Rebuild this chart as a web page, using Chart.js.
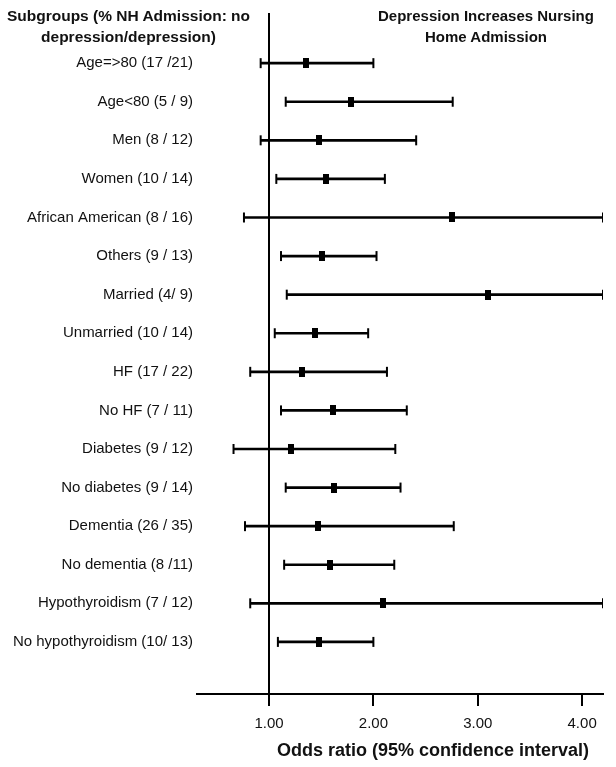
<!DOCTYPE html>
<html>
<head>
<meta charset="utf-8">
<script src="https://cdn.jsdelivr.net/npm/chart.js@4.4.1/dist/chart.umd.min.js"></script>
<style>
  body { margin: 0; background: #fff; }
  #wrap { position: relative; width: 616px; height: 767px; }
  .hdr { position: absolute; font-family: Arial, "Liberation Sans", sans-serif; font-weight: bold; color: #111; text-align: center; line-height: 21px; white-space: nowrap; }
</style>
</head>
<body>
<div id="wrap">
  <canvas id="mycanvas"></canvas>
  <div class="hdr" style="left:0px; top:5px; width:257px; font-size:15.5px;">Subgroups (% NH Admission: no<br>depression/depression)</div>
  <div class="hdr" style="left:366px; top:5px; width:240px; font-size:15px;">Depression Increases Nursing<br>Home Admission</div>
  <div class="hdr" style="left:253px; top:740px; width:360px; font-size:18px;">Odds ratio (95% confidence interval)</div>
</div>
<script>
var subgroups = ['Age=>80 (17 /21)', 'Age<80 (5 / 9)', 'Men (8 / 12)', 'Women (10 / 14)',
    'African American (8 / 16)', 'Others (9 / 13)', 'Married (4/ 9)', 'Unmarried (10 / 14)',
    'HF (17 / 22)', 'No HF (7 / 11)', 'Diabetes (9 / 12)', 'No diabetes (9 / 14)',
    'Dementia (26 / 35)', 'No dementia (8 /11)', 'Hypothyroidism (7 / 12)', 'No hypothyroidism (10/ 13)'];
var oddsRatio = [1.35, 1.79, 1.48, 1.55, 2.75, 1.505, 3.10, 1.44, 1.32, 1.61, 1.21, 1.62, 1.47, 1.58, 2.09, 1.48];
var ciLower = [0.92, 1.16, 0.92, 1.07, 0.76, 1.115, 1.17, 1.055, 0.82, 1.115, 0.66, 1.16, 0.77, 1.145, 0.82, 1.085];
var ciUpper = [2.00, 2.76, 2.41, 2.11, 4.20, 2.03, 4.20, 1.95, 2.13, 2.32, 2.21, 2.26, 2.77, 2.20, 4.20, 2.00];
var xTicks = [1, 2, 3, 4];

var ciBars = [], ciCaps = [], orPoints = [];
for (var i = 0; i < subgroups.length; i++) {
    ciBars.push({x: [ciLower[i], ciUpper[i]], y: i});
    ciCaps.push({x: ciLower[i], y: i});
    ciCaps.push({x: ciUpper[i], y: i});
    orPoints.push({x: oddsRatio[i], y: i});
}

// small filled rectangle used as the odds ratio marker
var marker = document.createElement('canvas');
marker.width = 6;
marker.height = 10;
var mctx = marker.getContext('2d');
mctx.fillStyle = '#000';
mctx.fillRect(0, 0, 6, 10);

var font = 'Arial, "Liberation Sans", sans-serif';

var ctx = document.getElementById('mycanvas');
var forest = new Chart(ctx, {
    type: 'bar',
    data: {
        datasets: [{
            type: 'scatter',
            label: 'Odds ratio',
            data: orPoints,
            pointStyle: marker,
            order: 0
        }, {
            type: 'scatter',
            label: 'CI caps',
            data: ciCaps,
            pointStyle: 'line',
            rotation: 90,
            radius: 5,
            borderWidth: 2,
            borderColor: '#000',
            order: 1
        }, {
            type: 'bar',
            label: '95% CI',
            data: ciBars,
            backgroundColor: '#000',
            barThickness: 2,
            order: 2
        }]
    },
    options: {
        indexAxis: 'y',
        responsive: true,
        maintainAspectRatio: false,
        animation: false,
        layout: { padding: { top: 10, right: 13, left: 0, bottom: 0 } },
        plugins: { legend: { display: false }, tooltip: { enabled: false } },
        scales: {
            x: {
                type: 'linear',
                position: 'bottom',
                min: 0.31,
                max: 4.2,
                afterBuildTicks: function(scale) {
                    scale.ticks = xTicks.map(function(v) { return {value: v}; });
                },
                afterFit: function(scale) { scale.height = 73; },
                border: { display: true, color: '#000', width: 2 },
                grid: {
                    color: function(c) { return c.tick && c.tick.value === 1 ? '#000' : 'rgba(0,0,0,0)'; },
                    lineWidth: 2,
                    tickColor: '#000',
                    tickWidth: 2,
                    tickLength: 12
                },
                ticks: {
                    color: '#111',
                    font: { family: font, size: 15 },
                    padding: 9,
                    callback: function(v) { return v.toFixed(2); }
                }
            },
            y: {
                type: 'linear',
                reverse: true,
                offset: false,
                min: -1.3,
                max: 16.35,
                afterBuildTicks: function(scale) {
                    scale.ticks = subgroups.map(function(s, k) { return {value: k}; });
                },
                afterFit: function(scale) { scale.width = 197; },
                border: { display: false },
                grid: { display: false, drawTicks: false },
                ticks: {
                    color: '#111',
                    font: { family: font, size: 15 },
                    padding: 4,
                    callback: function(v) { return subgroups[v]; }
                }
            }
        }
    }
});
</script>
</body>
</html>
